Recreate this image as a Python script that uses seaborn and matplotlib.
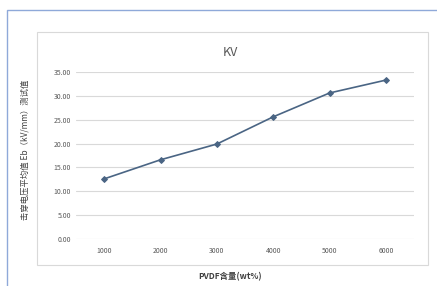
import matplotlib
matplotlib.use("Agg")
import matplotlib.pyplot as plt
import seaborn as sns
import pandas as pd
from matplotlib.patches import Rectangle

categories = ["1000", "2000", "3000", "4000", "5000", "6000"]
values = [12.6, 16.6, 19.9, 25.6, 30.6, 33.3]
yticks = [0, 5, 10, 15, 20, 25, 30, 35]
ytick_labels = ["0.00", "5.00", "10.00", "15.00", "20.00", "25.00", "30.00", "35.00"]

sns.set_theme(style="white")
plt.rcParams['font.family'] = ['Noto Sans CJK SC', 'DejaVu Sans']

df = pd.DataFrame({"cat": categories, "val": values})

fig = plt.figure(figsize=(4.37, 2.86), dpi=100)
fig.patch.set_facecolor("white")
# outer blue frame
fig.add_artist(Rectangle((7/437, -0.1), 1.2, 1 - 10/286 + 0.1, transform=fig.transFigure,
                         fill=False, edgecolor="#8fa9d9", linewidth=1.0))
# chart border
fig.add_artist(Rectangle((37/437, 1 - 265/286), (428-37)/437, (265-32)/286, transform=fig.transFigure,
                         fill=False, edgecolor="#d9d9d9", linewidth=0.8))

ax = fig.add_axes([76/437, 1 - 239/286, (414-76)/437, (239-72)/286])
sns.lineplot(data=df, x="cat", y="val", ax=ax, sort=False, color="#4a6584",
             marker="D", markersize=3, linewidth=1.2, markeredgecolor="#4a6584")
ax.set_ylim(0, 35)
ax.set_xlim(-0.5, len(categories) - 0.5)
ax.set_yticks(yticks)
ax.set_yticklabels(ytick_labels)
ax.yaxis.grid(True, color="#d9d9d9", linewidth=0.8)
ax.xaxis.grid(False)
for s in ax.spines.values():
    s.set_visible(False)
ax.tick_params(axis="both", labelsize=5, colors="#595959", length=0)
ax.tick_params(axis="x", pad=6)
ax.set_xlabel("")
ax.set_ylabel("")
fig.text(230/437, 1 - 53/286, "KV", ha="center", va="center", fontsize=9, color="#595959")
fig.text(230/437, 1 - 277/286, "PVDF含量(wt%)", ha="center", va="center", fontsize=6,
         color="#404040", fontweight="bold")
fig.text(25/437, 1 - 150/286, "击穿电压平均值 Eb（kV/mm）测试值", ha="center", va="center", rotation=90,
         fontsize=6, color="#404040")

fig.savefig("out.png", dpi=100, facecolor="white")
